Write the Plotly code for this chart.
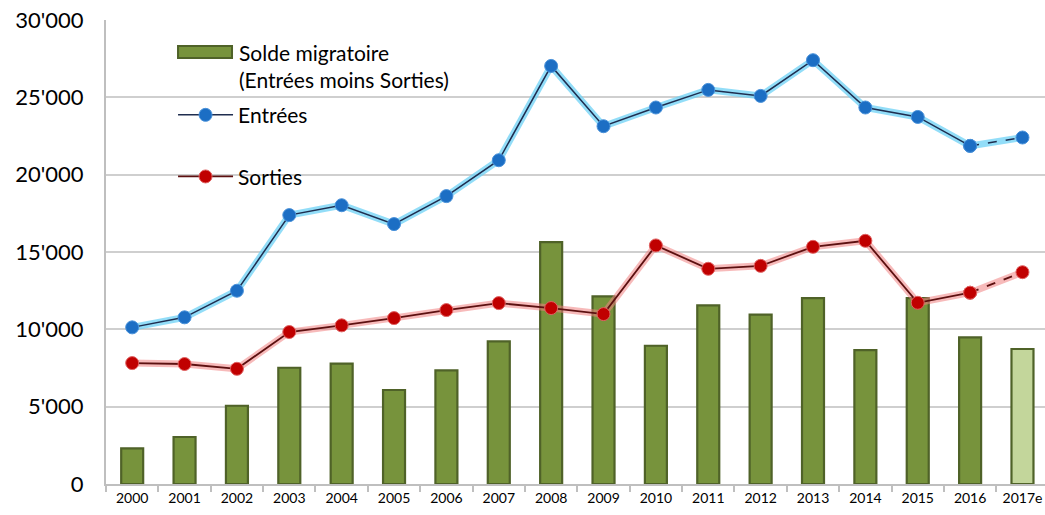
import plotly.graph_objects as go

years = ["2000", "2001", "2002", "2003", "2004", "2005", "2006", "2007", "2008",
         "2009", "2010", "2011", "2012", "2013", "2014", "2015", "2016", "2017e"]
solde = [2310, 3040, 5060, 7520, 7780, 6080, 7350, 9220, 15640,
         12130, 8940, 11550, 10950, 12020, 8660, 12020, 9480, 8730]
entrees = [10130, 10780, 12500, 17390, 18030, 16810, 18620, 20940, 27040,
           23140, 24350, 25490, 25100, 27410, 24350, 23740, 21870, 22410]
sorties = [7820, 7760, 7450, 9830, 10260, 10730, 11250, 11700, 11380,
           10990, 15430, 13920, 14110, 15340, 15730, 11720, 12370, 13700]
ytick_vals = [0, 5000, 10000, 15000, 20000, 25000, 30000]
ytick_text = ["0", "5'000", "10'000", "15'000", "20'000", "25'000", "30'000"]
solde_label = "Solde migratoire<br>(Entrées moins Sorties)"

FONT = "Lato"
bar_fill = ["#77933C"] * (len(years) - 1) + ["#C3D69B"]

fig = go.Figure()

fig.add_trace(go.Bar(
    x=years, y=solde, width=0.42,
    marker=dict(color=bar_fill, line=dict(color="#4F6228", width=2.2)),
    name="Solde migratoire", showlegend=False,
))

# glow layers
fig.add_trace(go.Scatter(x=years, y=entrees, mode="lines", showlegend=False,
                         line=dict(color="rgba(110,210,245,0.75)", width=7), hoverinfo="skip"))
fig.add_trace(go.Scatter(x=years, y=sorties, mode="lines", showlegend=False,
                         line=dict(color="rgba(240,130,130,0.55)", width=7), hoverinfo="skip"))

# Entrées
fig.add_trace(go.Scatter(
    x=years[:17], y=entrees[:17], mode="lines+markers", name="Entrées<br> ",
    legendgroup="b",
    line=dict(color="#1F2D4F", width=1.5),
    marker=dict(size=13, color="#1C6EC4", line=dict(color="#4A92DA", width=1)),
))
fig.add_trace(go.Scatter(
    x=years[16:], y=entrees[16:], mode="lines+markers", showlegend=False,
    line=dict(color="#1F2D4F", width=1.5, dash="dash"),
    marker=dict(size=13, color="#1C6EC4", line=dict(color="#4A92DA", width=1)),
))

# Sorties
fig.add_trace(go.Scatter(
    x=years[:17], y=sorties[:17], mode="lines+markers", name="Sorties",
    legendgroup="c",
    line=dict(color="#5C1010", width=1.8),
    marker=dict(size=13, color="#C00000", line=dict(color="#E06262", width=1)),
))
fig.add_trace(go.Scatter(
    x=years[16:], y=sorties[16:], mode="lines+markers", showlegend=False,
    line=dict(color="#5C1010", width=1.8, dash="dash"),
    marker=dict(size=13, color="#C00000", line=dict(color="#E06262", width=1)),
))

# legend entry for the bars (wide swatch)
fig.add_shape(type="rect", xref="paper", yref="paper",
              x0=0.0767, x1=0.1342, y0=0.918, y1=0.944,
              fillcolor="#77933C", line=dict(color="#4F6228", width=2))
fig.add_annotation(xref="paper", yref="paper", x=0.139, y=0.9009,
                   xanchor="left", yanchor="middle", align="left",
                   text=solde_label, showarrow=False,
                   font=dict(size=21, family=FONT, color="black"))

fig.update_layout(
    width=1045, height=515,
    margin=dict(l=106, r=0, t=20, b=31),
    paper_bgcolor="white", plot_bgcolor="white",
    font=dict(family=FONT, color="black"),
    showlegend=True,
    legend=dict(
        x=0.0714, y=0.839, xanchor="left", yanchor="top",
        bgcolor="rgba(0,0,0,0)", font=dict(size=21, family=FONT),
        traceorder="grouped", tracegroupgap=4, valign="top", itemwidth=55,
    ),
    bargap=0.5,
)
fig.update_xaxes(
    type="category", range=[-0.5, 17.43], automargin=False,
    showline=True, linecolor="#BFBFBF", linewidth=2,
    ticks="outside", tickson="boundaries", ticklen=6, tickcolor="#BFBFBF", tickwidth=2,
    tickfont=dict(size=14, family=FONT), showgrid=False,
)
fig.update_yaxes(
    range=[0, 30010], tickvals=ytick_vals, ticktext=ytick_text, automargin=False,
    showline=True, linecolor="#BFBFBF", linewidth=2,
    showgrid=True, gridcolor="#CFCFCF", gridwidth=1.5,
    zeroline=False, ticks="", ticklabelstandoff=16,
    tickfont=dict(size=22, family=FONT),
)

fig.write_html(
    "out.html",
    config={"displayModeBar": False},
    post_script="document.body.style.margin='0';document.body.style.overflow='hidden';",
)
